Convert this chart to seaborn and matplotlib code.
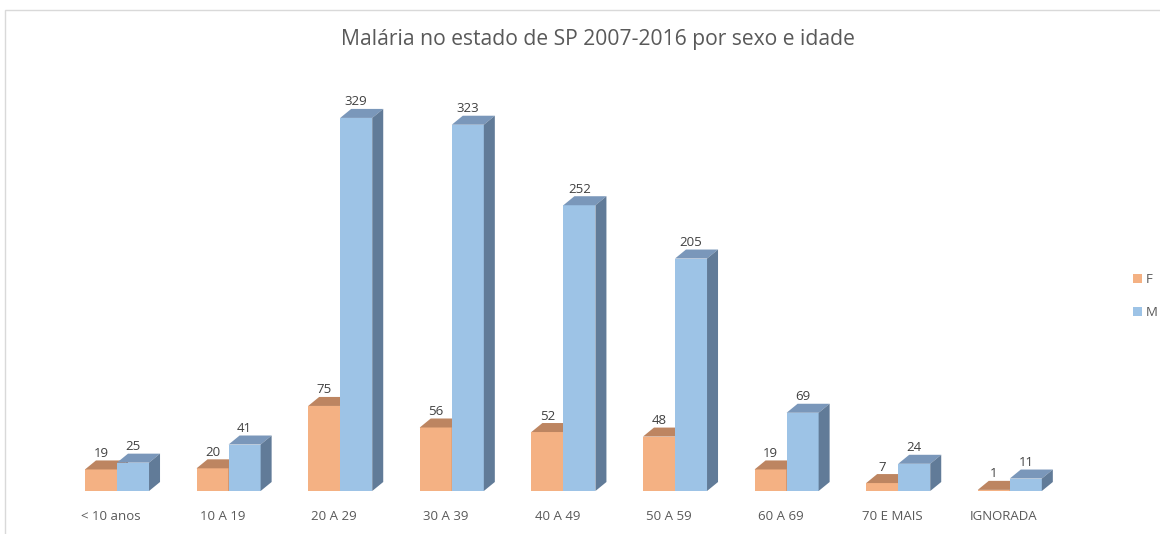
import matplotlib

matplotlib.use("Agg")

import matplotlib.pyplot as plt
import matplotlib.transforms as mtransforms
from matplotlib.patches import Patch, Polygon, Rectangle
import pandas as pd
import seaborn as sns

faixas = ["< 10 anos", "10 A 19", "20 A 29", "30 A 39", "40 A 49",
          "50 A 59", "60 A 69", "70 E MAIS", "IGNORADA"]
feminino = [19, 20, 75, 56, 52, 48, 19, 7, 1]
masculino = [25, 41, 329, 323, 252, 205, 69, 24, 11]
sexos = ["F", "M"]

front = {"F": "#F4B183", "M": "#9DC3E6"}
top = {"F": "#BD8561", "M": "#7A97BA"}
side = {"F": "#A9714F", "M": "#617B98"}

df = pd.DataFrame({
    "faixa": faixas * 2,
    "casos": feminino + masculino,
    "sexo": ["F"] * len(faixas) + ["M"] * len(faixas),
})

sns.set_theme(style="white")
plt.rcParams["font.family"] = ["Open Sans", "DejaVu Sans"]

W, H = 1160, 534
fig = plt.figure(figsize=(W / 100, H / 100), dpi=100)
ax = fig.add_axes([61.2 / W, 43 / H, 1004.4 / W, 396.9 / H])

sns.barplot(data=df, x="faixa", y="casos", hue="sexo", palette=front,
            width=0.574, dodge=True, ax=ax, legend=False, saturation=1,
            linewidth=0)
ax.set_xlim(-0.5, len(faixas) - 0.5)
ax.set_ylim(0, 350)

# pseudo 3D depth, converted from pixels to data units
dx = 11 / 111.6
dy = 9 / 1.134

for k, (sexo, cont) in enumerate(zip(sexos, ax.containers)):
    for bar in cont:
        x0 = bar.get_x()
        x1 = x0 + bar.get_width()
        h = bar.get_height()
        bar.set_zorder(2 + 2 * k)
        ax.add_patch(Polygon([(x0, h), (x0 + dx, h + dy), (x1 + dx, h + dy), (x1, h)],
                             closed=True, facecolor=top[sexo], edgecolor="none",
                             zorder=2.5 + 2 * k))
        ax.add_patch(Polygon([(x1, 0), (x1 + dx, dy), (x1 + dx, h + dy), (x1, h)],
                             closed=True, facecolor=side[sexo], edgecolor="none",
                             zorder=2.5 + 2 * k))
        ax.annotate(f"{int(h)}", xy=((x0 + x1) / 2, h), xytext=(0, 16),
                    textcoords="offset pixels", ha="center", va="center",
                    fontsize=9.5, color="#404040", zorder=10)

for s in ax.spines.values():
    s.set_visible(False)
ax.set_yticks([])
ax.set_xlabel("")
ax.set_ylabel("")
ax.tick_params(axis="x", length=0, pad=14, labelsize=9.5, labelcolor="#595959")
shift = mtransforms.ScaledTranslation(-6 / 100, 0, fig.dpi_scale_trans)
for lbl in ax.get_xticklabels():
    lbl.set_transform(lbl.get_transform() + shift)

fig.text(598 / W, 1 - 40 / H, "Malária no estado de SP 2007-2016 por sexo e idade",
         ha="center", va="center", fontsize=15.2, color="#595959")

# chart frame
fig.patches.append(Rectangle((5 / W, -0.1), 1.1, 1 - 10 / H + 0.1,
                             transform=fig.transFigure, fill=False,
                             edgecolor="#D9D9D9", linewidth=1))

handles = [Patch(facecolor=front[s], edgecolor="none", label=s) for s in sexos]
fig.legend(handles=handles, loc="center left",
           bbox_to_anchor=(1121 / W, 1 - 296 / H), frameon=False,
           fontsize=9.5, handlelength=0.7, handleheight=0.7,
           handletextpad=0.3, labelspacing=1.5, labelcolor="#595959")

fig.savefig("out.png", dpi=100)
